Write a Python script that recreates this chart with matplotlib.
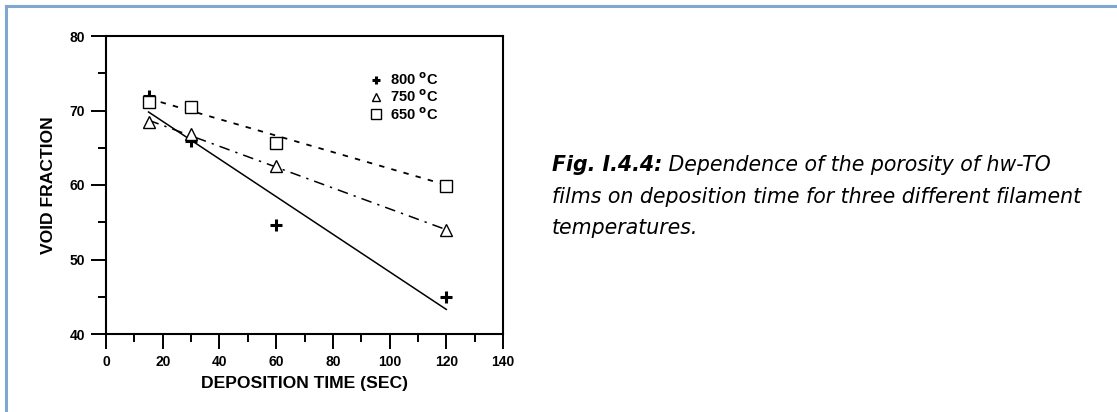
import matplotlib.pyplot as plt
from matplotlib.lines import Line2D
from matplotlib.ticker import MultipleLocator

# measured data (deposition time in sec, void fraction)
times = [15, 30, 60, 120]
void_800 = [71.9, 65.9, 54.6, 44.9]
void_750 = [68.4, 66.8, 62.5, 53.9]
void_650 = [71.1, 70.5, 65.6, 59.9]

# linear fit lines (endpoints)
fit_x = [15, 120]
fit_800 = [69.8, 43.3]
fit_750 = [68.7, 54.0]
fit_650 = [71.6, 60.0]

labels = ['800 $^{\\mathbf{o}}$C', '750 $^{\\mathbf{o}}$C', '650 $^{\\mathbf{o}}$C']
caption_bold = 'Fig. I.4.4:'
caption_rest = ' Dependence of the porosity of hw-TO'
caption_lines = ['films on deposition time for three different filament',
                 'temperatures.']

plt.rcParams['font.family'] = ['Liberation Sans', 'DejaVu Sans']

W, H = 1117, 412
fig = plt.figure(figsize=(W / 100, H / 100), dpi=100)

# light blue frame around the page (top and left edges)
fig.add_artist(Line2D([6 / W, 1], [1 - 6 / H, 1 - 6 / H], color='#7fa7cf', lw=2.2,
                      transform=fig.transFigure))
fig.add_artist(Line2D([6 / W, 6 / W], [0, 1 - 6 / H], color='#7fa7cf', lw=2.2,
                      transform=fig.transFigure))

ax = fig.add_axes([106 / W, 1 - 334 / H, 397 / W, 298 / H])

ax.plot(fit_x, fit_800, color='black', lw=1.1, ls='-')
ax.plot(fit_x, fit_750, color='black', lw=1.1, ls=(0, (7, 4, 1.5, 4)))
ax.plot(fit_x, fit_650, color='black', lw=1.3, ls=(0, (3, 4)))

ax.plot(times, void_800, ls='none', marker='+', ms=8, mew=2.2, color='black', label=labels[0])
ax.plot(times, void_750, ls='none', marker='^', ms=8, mew=1.0, mfc='white', mec='black', label=labels[1])
ax.plot(times, void_650, ls='none', marker='s', ms=9, mew=1.0, mfc='white', mec='black', label=labels[2])

ax.set_xlim(0, 140)
ax.set_ylim(40, 80)
ax.xaxis.set_major_locator(MultipleLocator(20))
ax.xaxis.set_minor_locator(MultipleLocator(10))
ax.yaxis.set_major_locator(MultipleLocator(10))
ax.yaxis.set_minor_locator(MultipleLocator(5))
ax.tick_params(which='major', direction='out', length=11, width=1.4, pad=4,
               labelsize=10)
ax.tick_params(which='minor', direction='out', length=6, width=1.4)
for t in ax.get_xticklabels() + ax.get_yticklabels():
    t.set_fontweight('bold')
for s in ax.spines.values():
    s.set_linewidth(1.5)

ax.set_xlabel('DEPOSITION TIME (SEC)', fontsize=12.6, fontweight='bold', labelpad=5)
ax.set_ylabel('VOID FRACTION', fontsize=12.6, fontweight='bold', labelpad=10)

leg = ax.legend(loc='upper right', bbox_to_anchor=(0.855, 0.905), frameon=False,
                fontsize=10.5, handlelength=0.9, handletextpad=0.5, labelspacing=0.04,
                borderpad=0, markerscale=0.8)
for t in leg.get_texts():
    t.set_fontweight('bold')

# caption on the right
x0 = 552
fig.text(x0 / W, 1 - 171 / H, caption_bold, fontsize=14.8, fontweight='bold',
         style='italic', family='DejaVu Sans', va='baseline')
r = fig.canvas.get_renderer()
bb = fig.texts[-1].get_window_extent(r)
fig.text(bb.x1 / W, 1 - 171 / H, caption_rest, fontsize=14.8, style='italic',
         family='DejaVu Sans', va='baseline')
for i, line in enumerate(caption_lines):
    fig.text(x0 / W, 1 - (203 + 31.5 * i) / H, line, fontsize=14.8, style='italic',
             family='DejaVu Sans', va='baseline')

fig.savefig('out.png', dpi=100)
